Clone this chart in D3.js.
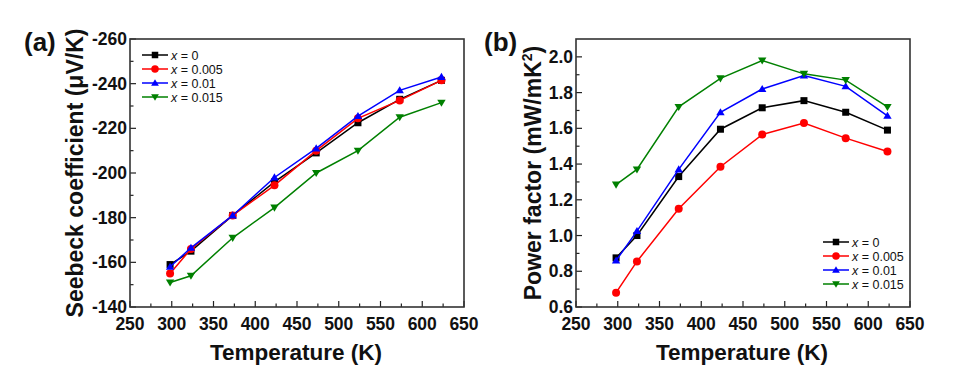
<!DOCTYPE html>
<html><head><meta charset="utf-8">
<script src="https://cdn.jsdelivr.net/npm/d3@7"></script>
<style>body{margin:0;background:#fff}svg{display:block;font-family:"Liberation Sans",Arial,sans-serif}</style>
</head><body><svg id="c" width="953" height="381"></svg>
<script>
const temps = [298, 323, 373, 423, 473, 523, 573, 623];
const seriesNames = ["0", "0.005", "0.01", "0.015"];
const colors = ["#000000", "#ff0000", "#0000ff", "#008000"];
const markers = ["square", "circle", "triangleUp", "triangleDown"];
const seebeck0 = [-159, -165, -181, -196, -209, -222.5, -233, -241.5];
const seebeck005 = [-155, -166, -181, -194.5, -210, -224.5, -232.5, -241.5];
const seebeck01 = [-158, -166.5, -181, -198, -211, -225.5, -237, -243];
const seebeck015 = [-151, -154, -171, -184.5, -200, -210, -225, -231.5];
const pf0 = [0.875, 1.0, 1.33, 1.595, 1.715, 1.755, 1.69, 1.59];
const pf005 = [0.68, 0.855, 1.15, 1.385, 1.565, 1.63, 1.545, 1.47];
const pf01 = [0.86, 1.025, 1.37, 1.69, 1.82, 1.895, 1.835, 1.67];
const pf015 = [1.285, 1.37, 1.72, 1.88, 1.98, 1.905, 1.87, 1.72];
const xTicks = [250, 300, 350, 400, 450, 500, 550, 600, 650];
const seebeckTicks = [-260, -240, -220, -200, -180, -160, -140];
const pfTicks = [0.6, 0.8, 1.0, 1.2, 1.4, 1.6, 1.8, 2.0];

const svg = d3.select("#c");

function marker(g, type, x, y, color, s) {
  if (type === "square") g.append("rect").attr("x", x - s/2).attr("y", y - s/2).attr("width", s).attr("height", s).attr("fill", color);
  else if (type === "circle") g.append("circle").attr("cx", x).attr("cy", y).attr("r", s/2 + 0.5).attr("fill", color);
  else if (type === "triangleUp") { const h = s*0.95; g.append("path").attr("d", `M${x},${y-h*0.62}L${x+s*0.6},${y+h*0.45}L${x-s*0.6},${y+h*0.45}Z`).attr("fill", color); }
  else { const h = s*0.95; g.append("path").attr("d", `M${x},${y+h*0.62}L${x+s*0.6},${y-h*0.45}L${x-s*0.6},${y-h*0.45}Z`).attr("fill", color); }
}

function panel(opt) {
  const g = svg.append("g");
  const x = d3.scaleLinear().domain([250, 650]).range([opt.left, opt.right]);
  const y = d3.scaleLinear().domain(opt.ydom).range([307, 39]);
  const xMinor = d3.range(275, 650, 50);
  const yMinor = opt.yMinor;
  const ax = g.append("g").attr("stroke", "#222").attr("stroke-width", 1.2);
  xTicks.forEach(t => ax.append("line").attr("x1", x(t)).attr("x2", x(t)).attr("y1", 307).attr("y2", 301));
  xMinor.forEach(t => ax.append("line").attr("x1", x(t)).attr("x2", x(t)).attr("y1", 307).attr("y2", 303.5));
  opt.yTicks.forEach(t => ax.append("line").attr("x1", opt.left).attr("x2", opt.left + 6).attr("y1", y(t)).attr("y2", y(t)));
  yMinor.forEach(t => ax.append("line").attr("x1", opt.left).attr("x2", opt.left + 3.5).attr("y1", y(t)).attr("y2", y(t)));
  g.append("rect").attr("x", opt.left).attr("y", 39).attr("width", opt.right - opt.left).attr("height", 268)
    .attr("fill", "none").attr("stroke", "#333").attr("stroke-width", 1.6);
  xTicks.forEach(t => g.append("text").attr("x", x(t)).attr("y", 330).attr("text-anchor", "middle")
    .attr("font-size", 17.5).attr("font-weight", "bold").attr("fill", "#111").text(t));
  opt.yTicks.forEach(t => g.append("text").attr("x", opt.left - 3).attr("y", y(t) + 6).attr("text-anchor", "end")
    .attr("font-size", 17.5).attr("font-weight", "bold").attr("fill", "#111").text(opt.fmt(t)));
  g.append("text").attr("x", (opt.left + opt.right)/2 - 1).attr("y", 360).attr("text-anchor", "middle")
    .attr("font-size", 22.5).attr("font-weight", "bold").attr("fill", "#111").text("Temperature (K)");
  const yt = g.append("text").attr("transform", `translate(${opt.ytx},173) rotate(-90)`).attr("text-anchor", "middle")
    .attr("font-size", 23).attr("font-weight", "bold").attr("fill", "#111");
  opt.ytitle(yt);
  g.append("text").attr("x", opt.labx).attr("y", 51).attr("font-size", 26).attr("font-weight", "bold").attr("fill", "#111").text(opt.label);
  opt.data.forEach((vals, i) => {
    const line = d3.line().x((d, j) => x(temps[j])).y(d => y(d));
    g.append("path").attr("d", line(vals)).attr("fill", "none").attr("stroke", colors[i]).attr("stroke-width", 1.5);
    vals.forEach((v, j) => marker(g, markers[i], x(temps[j]), y(v), colors[i], 7));
  });
  seriesNames.forEach((n, i) => {
    const ly = opt.legY + i * 14;
    g.append("line").attr("x1", opt.legX).attr("x2", opt.legX + 26).attr("y1", ly).attr("y2", ly).attr("stroke", colors[i]).attr("stroke-width", 1.5);
    marker(g, markers[i], opt.legX + 13, ly, colors[i], 6.5);
    const t = g.append("text").attr("x", opt.legX + 29).attr("y", ly + 4.5).attr("font-size", 12.5).attr("fill", "#111");
    t.append("tspan").attr("font-style", "italic").text("x");
    t.append("tspan").text(" = " + n);
  });
}

panel({
  left: 130, right: 464, ydom: [-140, -260],
  yTicks: seebeckTicks, yMinor: d3.range(-150, -260, -20),
  fmt: d => String(d).replace("−", "-"),
  ytx: 83, label: "(a)", labx: 24,
  ytitle: t => { t.text("Seebeck coefficient (μV/K)"); },
  data: [seebeck0, seebeck005, seebeck01, seebeck015],
  legX: 142, legY: 55
});
panel({
  left: 576, right: 910, ydom: [0.6, 2.1],
  yTicks: pfTicks, yMinor: d3.range(0.7, 2.1, 0.2),
  fmt: d => d.toFixed(1),
  ytx: 541, label: "(b)", labx: 484,
  ytitle: t => { t.append("tspan").text("Power factor (mW/mK"); t.append("tspan").attr("font-size", 14).attr("dy", -9).text("2"); t.append("tspan").attr("dy", 9).text(")"); },
  data: [pf0, pf005, pf01, pf015],
  legX: 823, legY: 242
});
</script></body></html>
